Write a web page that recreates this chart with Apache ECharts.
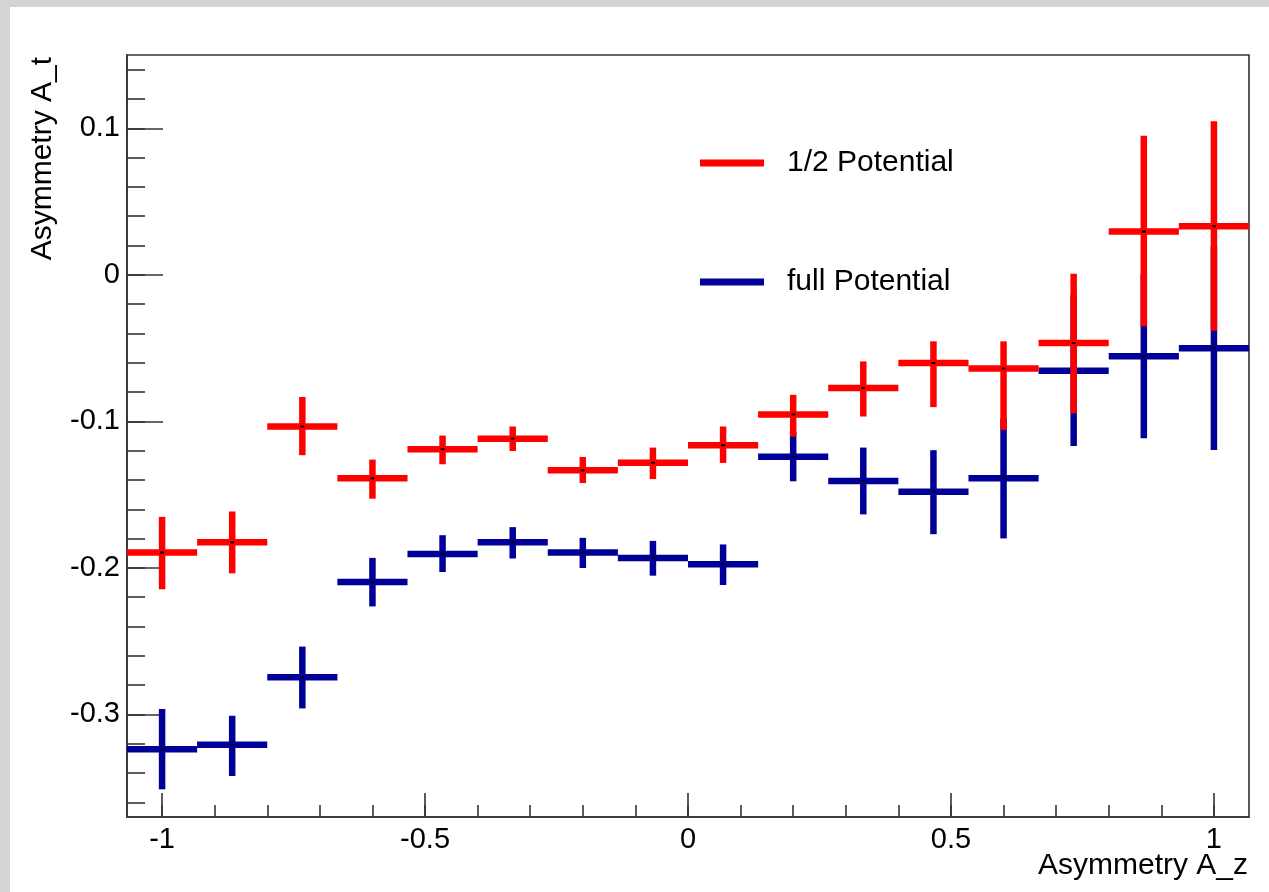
<!DOCTYPE html>
<html>
<head>
<meta charset="utf-8">
<script src="https://cdn.jsdelivr.net/npm/echarts@6/dist/echarts.min.js"></script>
<style>
  html, body { margin: 0; padding: 0; background: #ffffff; }
  #chart { width: 1269px; height: 892px; }
</style>
</head>
<body>
<div id="chart"></div>
<script>
// ---- data ----
var binCenters = [-1, -0.8667, -0.7333, -0.6, -0.4667, -0.3333, -0.2, -0.0667, 0.0667, 0.2, 0.3333, 0.4667, 0.6, 0.7333, 0.8667, 1];
var binHalfWidth = 0.0667;

var halfY    = [-0.1895, -0.1825, -0.1035, -0.1389, -0.1190, -0.1118, -0.1334, -0.1282, -0.1163, -0.0953, -0.0773, -0.0602, -0.0639, -0.0465, 0.0295, 0.0331];
var halfLow  = [-0.2146, -0.2037, -0.1231, -0.1528, -0.1293, -0.1202, -0.1421, -0.1394, -0.1284, -0.1104, -0.0967, -0.0903, -0.1058, -0.0944, -0.0351, -0.0381];
var halfHigh = [-0.1652, -0.1615, -0.0834, -0.1261, -0.1097, -0.1035, -0.1243, -0.1179, -0.1035, -0.0819, -0.0591, -0.0454, -0.0454, 0.0007, 0.0949, 0.1048];

var fullY    = [-0.3237, -0.3207, -0.2747, -0.2096, -0.1905, -0.1825, -0.1895, -0.1932, -0.1975, -0.1241, -0.1407, -0.1480, -0.1389, -0.0654, -0.0556, -0.0501];
var fullLow  = [-0.3511, -0.3420, -0.2959, -0.2263, -0.2028, -0.1936, -0.2001, -0.2053, -0.2117, -0.1409, -0.1635, -0.1770, -0.1799, -0.1168, -0.1115, -0.1195];
var fullHigh = [-0.2963, -0.3009, -0.2537, -0.1932, -0.1777, -0.1722, -0.1795, -0.1816, -0.1840, -0.1073, -0.1179, -0.1197, -0.0979, -0.0140, 0.0003, 0.0193];

var xMajorTicks = [-1, -0.5, 0, 0.5, 1];
var xMinorTicks = [-1, -0.9, -0.8, -0.7, -0.6, -0.5, -0.4, -0.3, -0.2, -0.1, 0, 0.1, 0.2, 0.3, 0.4, 0.5, 0.6, 0.7, 0.8, 0.9, 1];
var yMajorTicks = [-0.3, -0.2, -0.1, 0, 0.1];
var yMinorTicks = [-0.36, -0.34, -0.32, -0.3, -0.28, -0.26, -0.24, -0.22, -0.2, -0.18, -0.16, -0.14, -0.12, -0.1, -0.08, -0.06, -0.04, -0.02, 0, 0.02, 0.04, 0.06, 0.08, 0.1, 0.12, 0.14];

var xRange = [-1.0667, 1.0667];
var yRange = [-0.37, 0.15];

var halfName = '1/2 Potential';
var fullName = 'full Potential';
var xTitle = 'Asymmetry A_z';
var yTitle = 'Asymmetry A_t';

// ---- build ----
function rows(ys, lo, hi) {
  return binCenters.map(function (x, i) { return [x, ys[i], lo[i], hi[i]]; });
}

var FONT = '"Liberation Sans", Arial, Helvetica, sans-serif';
var RED = '#ff0000';
var BLUE = '#000099';
var AX = '#333333';

function makeRender(color) {
  return function (params, api) {
    var x = api.value(0), y = api.value(1), lo = api.value(2), hi = api.value(3);
    var pL = api.coord([x - binHalfWidth, y]);
    var pR = api.coord([x + binHalfWidth, y]);
    var pLo = api.coord([x, lo]);
    var pHi = api.coord([x, hi]);
    var pC = api.coord([x, y]);
    var lw = 6.5;
    return {
      type: 'group',
      children: [
        { type: 'line', shape: { x1: pL[0], y1: pL[1], x2: pR[0], y2: pR[1] }, style: { stroke: color, lineWidth: lw } },
        { type: 'line', shape: { x1: pLo[0], y1: pLo[1], x2: pHi[0], y2: pHi[1] }, style: { stroke: color, lineWidth: lw } },
        { type: 'rect', shape: { x: pC[0] - 2, y: pC[1] - 1, width: 4, height: 2 }, style: { fill: '#000' } }
      ]
    };
  };
}

var chart = echarts.init(document.getElementById('chart'), null, { renderer: 'canvas' });

var option = {
  animation: false,
  backgroundColor: '#ffffff',
  grid: {
    left: 127, right: 20, top: 55, bottom: 75,
    show: true, borderColor: AX, borderWidth: 1.6, backgroundColor: 'transparent'
  },
  legend: {
    data: [{ name: halfName, icon: 'rect' }, { name: fullName, icon: 'rect' }],
    orient: 'vertical',
    left: 700, top: 143,
    padding: 0,
    itemWidth: 64, itemHeight: 7,
    itemGap: 79,
    selectedMode: false,
    textStyle: { fontSize: 30, fontFamily: FONT, color: '#000', lineHeight: 36, padding: [4, 0, 0, 18] }
  },
  xAxis: [
    {
      type: 'value', min: xRange[0], max: xRange[1], position: 'bottom',
      axisLine: { show: true, onZero: false, lineStyle: { color: AX, width: 1.6 } },
      axisTick: { show: true, inside: true, length: 24, customValues: xMajorTicks, lineStyle: { color: AX, width: 1.6 } },
      axisLabel: { show: true, customValues: xMajorTicks, margin: 8, fontSize: 29, fontFamily: FONT, color: '#000' },
      splitLine: { show: false }
    },
    {
      type: 'value', min: xRange[0], max: xRange[1], position: 'bottom',
      axisLine: { show: false, onZero: false },
      axisTick: { show: true, inside: true, length: 12, customValues: xMinorTicks, lineStyle: { color: AX, width: 1.6 } },
      axisLabel: { show: false },
      splitLine: { show: false }
    }
  ],
  yAxis: [
    {
      type: 'value', min: yRange[0], max: yRange[1], position: 'left',
      axisLine: { show: true, onZero: false, lineStyle: { color: AX, width: 1.6 } },
      axisTick: { show: true, inside: true, length: 36, customValues: yMajorTicks, lineStyle: { color: AX, width: 1.6 } },
      axisLabel: { show: true, customValues: yMajorTicks, margin: 7, fontSize: 29, fontFamily: FONT, color: '#000', padding: [4, 0, 0, 0] },
      splitLine: { show: false }
    },
    {
      type: 'value', min: yRange[0], max: yRange[1], position: 'left',
      axisLine: { show: false, onZero: false },
      axisTick: { show: true, inside: true, length: 18, customValues: yMinorTicks, lineStyle: { color: AX, width: 1.6 } },
      axisLabel: { show: false },
      splitLine: { show: false }
    }
  ],
  graphic: [
    { type: 'rect', z: -10, shape: { x: 0, y: 0, width: 1269, height: 7 }, style: { fill: '#d4d4d4' } },
    { type: 'rect', z: -10, shape: { x: 0, y: 0, width: 10, height: 892 }, style: { fill: '#d4d4d4' } },
    {
      type: 'text', x: 1248, y: 866,
      style: { text: xTitle, fontSize: 30, fontFamily: FONT, fill: '#000', align: 'right', verticalAlign: 'middle' }
    },
    {
      type: 'text', x: 43, y: 57, rotation: Math.PI / 2,
      style: { text: yTitle, fontSize: 30, fontFamily: FONT, fill: '#000', align: 'right', verticalAlign: 'middle' }
    }
  ],
  series: [
    {
      name: fullName, type: 'custom', xAxisIndex: 0, yAxisIndex: 0,
      itemStyle: { color: BLUE },
      renderItem: makeRender(BLUE),
      encode: { x: 0, y: [1, 2, 3] },
      data: rows(fullY, fullLow, fullHigh)
    },
    {
      name: halfName, type: 'custom', xAxisIndex: 0, yAxisIndex: 0,
      itemStyle: { color: RED },
      renderItem: makeRender(RED),
      encode: { x: 0, y: [1, 2, 3] },
      data: rows(halfY, halfLow, halfHigh)
    }
  ]
};

chart.setOption(option);
</script>
</body>
</html>
